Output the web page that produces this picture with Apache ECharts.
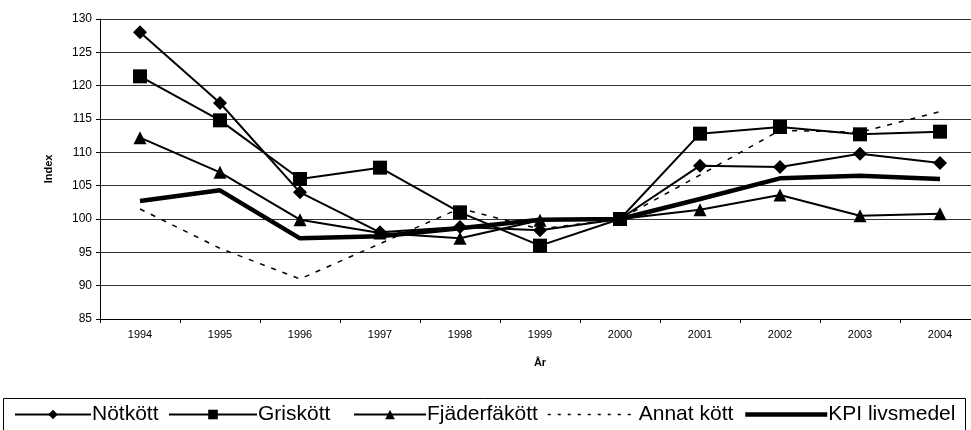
<!DOCTYPE html>
<html>
<head>
<meta charset="utf-8">
<script src="https://cdn.jsdelivr.net/npm/echarts@6/dist/echarts.min.js"></script>
<style>
  html, body { margin: 0; padding: 0; background: #fff; }
  #chart { width: 971px; height: 430px; }
</style>
</head>
<body>
<div id="chart"></div>
<script>
const years = ['1994', '1995', '1996', '1997', '1998', '1999', '2000', '2001', '2002', '2003', '2004'];
const notkott = [128.0, 117.4, 104.0, 98.0, 98.8, 98.3, 100, 108.0, 107.8, 109.8, 108.4];
const griskott = [121.4, 114.8, 106.0, 107.7, 101.0, 96.0, 100, 112.8, 113.8, 112.7, 113.1];
const fjaderfakott = [112.2, 107.0, 99.9, 97.9, 97.1, 99.8, 100, 101.4, 103.6, 100.5, 100.8];
const annatKott = [101.5, 95.6, 91.0, 96.3, 101.6, 98.5, 100, 106.6, 113.3, 113.0, 116.1];
const kpiLivsmedel = [102.7, 104.3, 97.1, 97.4, 98.6, 99.9, 100, 103.0, 106.1, 106.5, 106.0];

const font = 'Liberation Sans, Arial, sans-serif';
const chart = echarts.init(document.getElementById('chart'), null, { renderer: 'canvas' });

function lineSeries(name, data, symbol, size, extra) {
  return Object.assign({
    name: name,
    type: 'line',
    data: data,
    symbol: symbol,
    symbolSize: size,
    lineStyle: { color: '#000', width: 2 },
    itemStyle: { color: '#000', borderWidth: 0 },
    emphasis: { disabled: true },
    animation: false
  }, extra || {});
}

// one legend per entry so each sits where it does in the original
function legendItem(name, left, width, lineStyle, hideSymbol) {
  const item = { name: name, lineStyle: Object.assign({ color: '#000', width: 2 }, lineStyle || {}) };
  if (hideSymbol) item.itemStyle = { opacity: 0 };
  return {
    top: 404,
    left: left,
    padding: 0,
    itemWidth: width,
    itemHeight: 12,
    selectedMode: false,
    textStyle: { fontFamily: font, fontSize: 21, color: '#000', padding: [0, 0, 0, -4] },
    data: [item]
  };
}

const option = {
  backgroundColor: '#fff',
  animation: false,
  grid: { left: 100, top: 19, right: -9, height: 300, containLabel: false, outerBoundsMode: 'none' },
  graphic: [{
    type: 'rect',
    shape: { x: 3.5, y: 398.5, width: 962, height: 40 },
    style: { fill: 'none', stroke: '#000', lineWidth: 1 },
    z: 0
  }],
  legend: [
    legendItem('Nötkött', 14, 76),
    legendItem('Griskött', 168, 88),
    legendItem('Fjäderfäkött', 353, 72),
    legendItem('Annat kött', 547, 90, { width: 1.5, type: [3, 7] }, true),
    legendItem('KPI livsmedel', 743, 82, { width: 4.5 }, true)
  ],
  xAxis: {
    type: 'category',
    data: years,
    boundaryGap: true,
    name: 'År',
    nameLocation: 'middle',
    nameGap: 38,
    nameTextStyle: { fontFamily: font, fontSize: 11, fontWeight: 'bold', color: '#000' },
    axisLine: { lineStyle: { color: '#000', width: 1 } },
    axisTick: { show: true, alignWithLabel: false, length: 4, lineStyle: { color: '#000' } },
    axisLabel: { fontFamily: font, fontSize: 11, color: '#000', margin: 10 },
    splitLine: { show: false }
  },
  yAxis: {
    type: 'value',
    min: 85,
    max: 130,
    interval: 5,
    name: 'Index',
    nameLocation: 'middle',
    nameGap: 46,
    nameRotate: 90,
    nameTextStyle: { fontFamily: font, fontSize: 11, fontWeight: 'bold', color: '#000' },
    axisLine: { show: true, lineStyle: { color: '#000', width: 1 } },
    axisTick: { show: true, length: 4, inside: false, lineStyle: { color: '#000' } },
    axisLabel: { fontFamily: font, fontSize: 12, color: '#000', margin: 8 },
    splitLine: { show: true, lineStyle: { color: '#333', width: 1 } }
  },
  series: [
    lineSeries('Nötkött', notkott, 'diamond', 14),
    lineSeries('Griskött', griskott, 'rect', 14),
    lineSeries('Fjäderfäkött', fjaderfakott, 'triangle', 13),
    lineSeries('Annat kött', annatKott, 'none', 0, {
      lineStyle: { color: '#000', width: 1.5, type: [5, 7] }
    }),
    lineSeries('KPI livsmedel', kpiLivsmedel, 'none', 0, {
      lineStyle: { color: '#000', width: 4.5 }
    })
  ]
};

chart.setOption(option);
window.addEventListener('resize', () => {
  chart.resize();
});
</script>
</body>
</html>
